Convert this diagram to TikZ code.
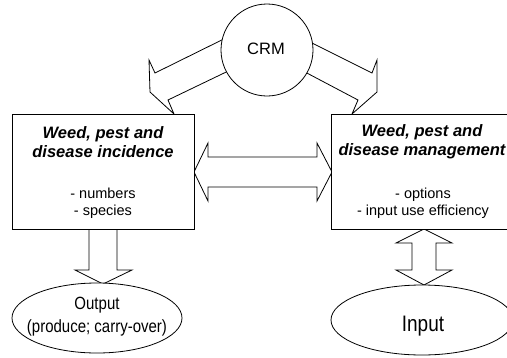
\documentclass[tikz,border=0pt]{standalone}
\usepackage{fontspec}
\setmainfont{Liberation Sans}
\usetikzlibrary{shapes.geometric}
\newcommand{\tallish}[1]{\scalebox{1}[1.18]{#1}}
\begin{document}
\begin{tikzpicture}[x=1pt, y=-1pt,
    outline/.style={draw=black, line width=0.8pt, line join=miter},
    blockarrow/.style={outline, fill=white},
    box/.style={outline, fill=white, rectangle, inner sep=0pt, minimum width=182pt, minimum height=115pt},
    oval/.style={outline, fill=white, ellipse, inner sep=0pt},
    title/.style={align=center, inner sep=0pt, font=\fontsize{16.5}{19}\selectfont\bfseries\itshape},
    items/.style={align=center, inner sep=0pt, font=\fontsize{14.5}{16.5}\selectfont}]
\clip (0,0) rectangle (507,357);
\fill[white] (0,0) rectangle (507,357);

% block arrows from CRM down to both boxes (their inner ends are hidden under the circle)
\draw[blockarrow] (242,30) -- (155,73) -- (149,60) -- (150,92) -- (174,114) -- (168,100) -- (247,62) -- cycle;
\draw[blockarrow] (290,32) -- (372,73) -- (377,60) -- (377,92) -- (352,114) -- (358,100) -- (286,62) -- cycle;

% two-way block arrow between incidence and management
\draw[blockarrow] (194,172) -- (208,143) -- (208,157) -- (317,157) -- (317,143) -- (332,172)
  -- (317,201) -- (317,187) -- (208,187) -- (208,201) -- cycle;

% incidence -> output
\draw[blockarrow] (89,220) -- (89,270) -- (75,270) -- (103,284) -- (132,270) -- (117,270) -- (117,220) -- cycle;

% management <-> input
\draw[blockarrow] (424,229) -- (452,243) -- (436,243) -- (436,270) -- (452,270) -- (424,285)
  -- (396,270) -- (412,270) -- (412,243) -- (396,243) -- cycle;

% nodes
\node[outline, fill=white, circle, inner sep=0pt, minimum size=92pt] (crm) at (267,50) {};
\node[font=\fontsize{16.5}{18}\selectfont, inner sep=0pt] (crmtext) at (266,49) {CRM};

\node[box] (inc) at (103,171.5) {};
\node[title] (inctitle) at (103,142) {Weed, pest and\\disease incidence};
\node[items] (incitems) at (103,203) {- numbers\\- species};

\node[box] (man) at (422,171.5) {};
\node[title] (mantitle) at (422,142) {Weed, pest and\\disease management};
\node[items] (manitems) at (423,203) {- options\\- input use efficiency};

\node[oval, minimum width=170pt, minimum height=70pt] (out) at (97,318) {};
\node[align=center, inner sep=0pt, font=\fontsize{15}{23}\selectfont] (outtext) at (97,316.5)
  {\tallish{Output}\\\tallish{(produce; carry-over)}};

\node[oval, minimum width=182pt, minimum height=70pt] (in) at (422,320) {};
\node[inner sep=0pt, font=\fontsize{19}{24}\selectfont] (intext) at (423,326) {\tallish{Input}};
\end{tikzpicture}
\end{document}
